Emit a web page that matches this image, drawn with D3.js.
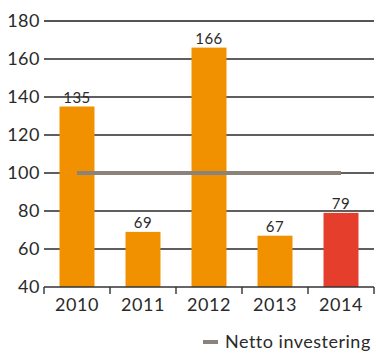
<!DOCTYPE html>
<html>
<head>
<meta charset="utf-8">
<script src="https://cdn.jsdelivr.net/npm/d3@7/dist/d3.min.js"></script>
<style>
  html, body { margin: 0; padding: 0; background: #fff; }
  svg { display: block; font-family: "Lato", "DejaVu Sans", sans-serif; }
</style>
</head>
<body>
<svg id="chart" width="376" height="354"></svg>
<script>
// Investment per year, plus the net-investment reference level
const years = ["2010", "2011", "2012", "2013", "2014"];
const values = [135, 69, 166, 67, 79];
const barColors = ["#f29100", "#f29100", "#f29100", "#f29100", "#e53e2d"];
const nettoLevel = [100, 100, 100, 100, 100];
const yTicks = [40, 60, 80, 100, 120, 140, 160, 180];
const legendLabel = "Netto investering";

const svg = d3.select("#chart");
const plot = { left: 44, right: 374, top: 21, bottom: 287 };

const x = d3.scaleBand().domain(years).range([plot.left, plot.right]).paddingInner(0.47).paddingOuter(0.235);
const y = d3.scaleLinear().domain([40, 180]).range([plot.bottom, plot.top]);

// horizontal gridlines with labels
const grid = svg.append("g");
yTicks.slice(1).forEach(t => {
  grid.append("line")
    .attr("x1", plot.left).attr("x2", plot.right)
    .attr("y1", y(t)).attr("y2", y(t))
    .attr("stroke", t === 180 ? "#555" : "#2a2a2a")
    .attr("stroke-width", t === 180 ? 2 : 1.4);
});
grid.selectAll("text").data(yTicks).join("text")
  .attr("x", 40).attr("y", d => y(d))
  .attr("dy", "0.36em")
  .attr("text-anchor", "end")
  .attr("font-size", 18)
  .attr("letter-spacing", 0.5)
  .attr("fill", "#2a2a2a")
  .text(d => d);

// bars
svg.append("g").selectAll("rect").data(values).join("rect")
  .attr("x", (d, i) => x(years[i]))
  .attr("y", d => y(d))
  .attr("width", x.bandwidth())
  .attr("height", d => y(40) - y(d))
  .attr("fill", (d, i) => barColors[i]);

// value labels
svg.append("g").selectAll("text").data(values).join("text")
  .attr("x", (d, i) => x(years[i]) + x.bandwidth() / 2)
  .attr("y", d => y(d) - 4)
  .attr("text-anchor", "middle")
  .attr("font-size", 15)
  .attr("letter-spacing", 0.5)
  .attr("fill", "#2a2a2a")
  .text(d => d);

// net investment line
const line = d3.line()
  .x((d, i) => x(years[i]) + x.bandwidth() / 2)
  .y(d => y(d));
svg.append("path")
  .datum(nettoLevel)
  .attr("d", line)
  .attr("fill", "none")
  .attr("stroke", "#8c827c")
  .attr("stroke-width", 4);

// x axis
const xAxis = svg.append("g");
xAxis.append("line")
  .attr("x1", plot.left).attr("x2", plot.right)
  .attr("y1", plot.bottom).attr("y2", plot.bottom)
  .attr("stroke", "#333").attr("stroke-width", 1.4);
const boundaries = d3.range(years.length + 1).map(i => plot.left + i * (plot.right - plot.left) / years.length);
xAxis.selectAll("line.tick").data(boundaries).join("line")
  .attr("class", "tick")
  .attr("x1", d => d).attr("x2", d => d)
  .attr("y1", plot.bottom).attr("y2", plot.bottom + 7)
  .attr("stroke", "#333").attr("stroke-width", 1.4);
xAxis.selectAll("text").data(years).join("text")
  .attr("x", d => x(d) + x.bandwidth() / 2)
  .attr("y", 311)
  .attr("text-anchor", "middle")
  .attr("font-size", 18)
  .attr("letter-spacing", 0.5)
  .attr("fill", "#2a2a2a")
  .text(d => d);

// legend
const legend = svg.append("g");
legend.append("line")
  .attr("x1", 203).attr("x2", 218)
  .attr("y1", 342).attr("y2", 342)
  .attr("stroke", "#8c827c").attr("stroke-width", 4);
legend.append("text")
  .attr("x", 225).attr("y", 348)
  .attr("font-size", 18)
  .attr("letter-spacing", 0.5)
  .attr("fill", "#2a2a2a")
  .text(legendLabel);
</script>
</body>
</html>
